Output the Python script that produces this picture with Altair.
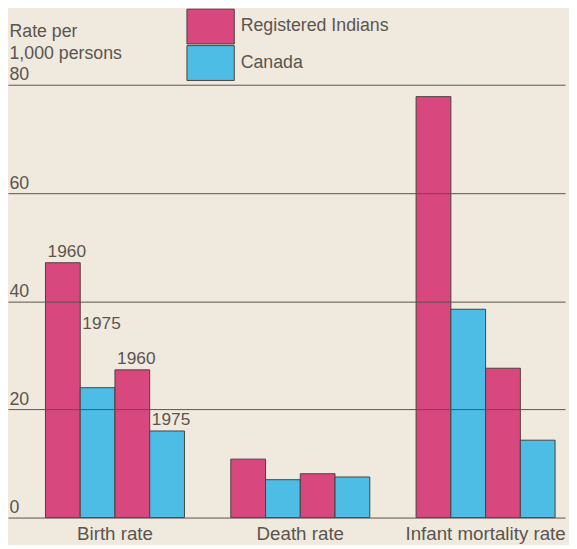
import altair as alt
import pandas as pd

categories = ["Birth rate", "Death rate", "Infant mortality rate"]
series = ["Registered Indians", "Canada"]
slot_series = ["Registered Indians", "Canada", "Registered Indians", "Canada"]
values = {
    "Birth rate": [47.1, 24.0, 27.3, 16.0],
    "Death rate": [10.8, 7.0, 8.1, 7.5],
    "Infant mortality rate": [77.8, 38.5, 27.6, 14.3],
}
year_labels = ["1960", "1975", "1960", "1975"]
year_label_levels = [47.1, 33.8, 27.3, 16.0]

rows = []
for c in categories:
    for i, v in enumerate(values[c]):
        rows.append({"category": c, "slot": i, "series": slot_series[i], "value": v})
df = pd.DataFrame(rows)

lab = pd.DataFrame({
    "category": ["Birth rate"] * 4,
    "slot": [0, 1, 2, 3],
    "year": year_labels,
    "level": year_label_levels,
})

FONT = "Liberation Sans"
TXT = "#5b5550"
PINK = "#d8477d"
CYAN = "#4dbde6"
BG = "#efe9de"

xenc = alt.X("category:N", sort=categories,
             scale=alt.Scale(paddingInner=0.25, paddingOuter=0.128, align=0.79),
             axis=alt.Axis(title=None, labelAngle=0, ticks=False, domain=False, grid=False,
                           labelFontSize=19, labelFont=FONT, labelColor=TXT, labelPadding=7))
xoff = alt.XOffset("slot:O", scale=alt.Scale(paddingInner=0, paddingOuter=0))

bars = alt.Chart(df).mark_bar(stroke="#4a403c", strokeWidth=1).encode(
    x=xenc,
    xOffset=xoff,
    y=alt.Y("value:Q", scale=alt.Scale(domain=[0, 80], nice=False),
            axis=alt.Axis(values=[0, 20, 40, 60, 80], grid=True, gridColor="#5a524c",
                          gridWidth=1, gridOpacity=1, domain=False, ticks=False,
                          labelAlign="left", labelBaseline="alphabetic", labelOffset=-5,
                          labelPadding=-1, labelFontSize=18, labelFont=FONT, labelColor=TXT,
                          title=["Rate per", "1,000 persons"], titleAngle=0, titleAlign="left",
                          titleBaseline="alphabetic", titleX=1, titleY=-49, titleLineHeight=22,
                          titleFontSize=18, titleFont=FONT, titleColor=TXT,
                          titleFontWeight="normal", zindex=1)),
    fill=alt.Fill("series:N", sort=series,
                  scale=alt.Scale(domain=series, range=[PINK, CYAN]),
                  legend=alt.Legend(title=None, orient="none", legendX=188.5, legendY=-76,
                                    symbolType="M-1.4545,-1.07 L1.4545,-1.07 L1.4545,1.07 L-1.4545,1.07 Z",
                                    symbolSize=1089, symbolStrokeColor="#4a403c",
                                    symbolStrokeWidth=1, symbolOpacity=1, rowPadding=-7,
                                    labelOffset=13.5, labelFontSize=18, labelFont=FONT,
                                    labelColor=TXT, padding=0)),
)

texts = alt.Chart(lab).mark_text(dy=-6, dx=4, baseline="alphabetic", align="center",
                                 fontSize=17.5, font=FONT, color=TXT).encode(
    x=alt.X("category:N", sort=categories),
    xOffset=xoff,
    y=alt.Y("level:Q"),
    text="year:N",
)

chart = alt.layer(bars, texts).properties(
    width=565, height=439,
    autosize=alt.AutoSizeParams(type="none"),
    padding={"left": 0, "top": 74, "right": 4, "bottom": 24},
    background=BG,
).configure_view(stroke=None)

chart.save("out.html", embed_options={"renderer": "svg", "actions": False})
